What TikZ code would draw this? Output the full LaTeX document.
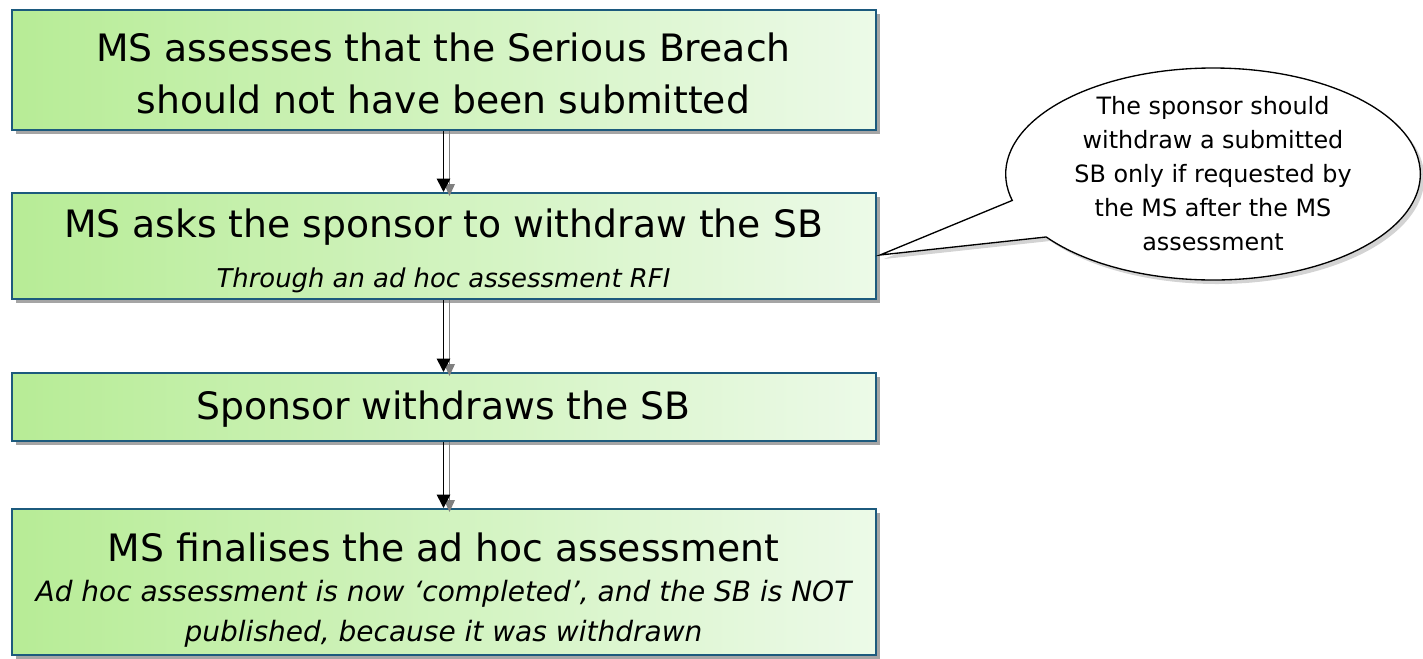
\documentclass[tikz,border=0pt]{standalone}
\usepackage{fontspec}
\setmainfont{DejaVu Sans}
\usetikzlibrary{shapes.callouts,shadows,arrows.meta}
\definecolor{boxleft}{RGB}{183,236,150}
\definecolor{boxright}{RGB}{236,250,232}
\definecolor{boxline}{RGB}{28,90,125}
\newcommand{\boxfont}{\fontsize{28.3}{39}\selectfont}
\newcommand{\subfont}{\fontsize{19.4}{31.5}\selectfont\itshape}
\newcommand{\bigsubfont}{\fontsize{21}{31.5}\selectfont\itshape}
\newcommand{\notefont}{\fontsize{17.9}{25.5}\selectfont}

\begin{document}
\begin{tikzpicture}[x=0.75pt, y=-0.75pt,
    stepbox/.style={draw=boxline, line width=1.5pt, left color=boxleft, right color=boxright,
        minimum width=648pt, inner sep=0pt, align=center, font=\boxfont,
        drop shadow={shadow xshift=3pt, shadow yshift=-3pt, opacity=0.5, fill=black!70}},
    flow/.style={line width=1.2pt, -{Triangle[width=10pt, length=10pt]}},
    flowshadow/.style={line width=1pt, gray, -{Triangle[width=8pt, length=9pt]}}]
    \useasboundingbox (0,0) rectangle (1423,658);

    % Schritte
    \node[stepbox, minimum height=90pt] (assess) at (443.5,70)
        {\rule{0pt}{26pt}MS assesses that the Serious Breach\\should not have been submitted};
    \node[stepbox, minimum height=79.5pt] (ask) at (443.5,246)
        {\rule{0pt}{29pt}MS asks the sponsor to withdraw the SB\\[-1pt]{\subfont Through an ad hoc assessment RFI}};
    \node[stepbox, minimum height=51pt] (withdraw) at (443.5,407)
        {\rule{0pt}{24pt}Sponsor withdraws the SB};
    \node[stepbox, minimum height=109.5pt] (final) at (443.5,582)
        {\rule{0pt}{33.5pt}MS finalises the ad hoc assessment\\[-9.25pt]
         {\bigsubfont Ad hoc assessment is now `completed', and the SB is NOT}\\[-9.25pt]
         {\bigsubfont published, because it was withdrawn}};

    % Pfeile
    \foreach \a/\b in {assess/ask, ask/withdraw, withdraw/final} {
        \draw[flowshadow] ([xshift=4.5pt]\a.south) -- ([xshift=4.5pt, yshift=-3pt]\b.north);
        \draw[flow] (\a.south) -- (\b.north);
    }

    % Hinweis
    \node[ellipse callout, draw, line width=1pt, fill=white, minimum width=311pt, minimum height=159pt,
        callout absolute pointer={(880,255)}, callout pointer arc=22,
        drop shadow={shadow xshift=3pt, shadow yshift=-3pt, opacity=0.35}] (note) at (1213,174) {};
    \node[align=center, font=\notefont] (notetext) at (note.center)
        {The sponsor should\\withdraw a submitted\\SB only if requested by\\the MS after the MS\\assessment};
\end{tikzpicture}
\end{document}
